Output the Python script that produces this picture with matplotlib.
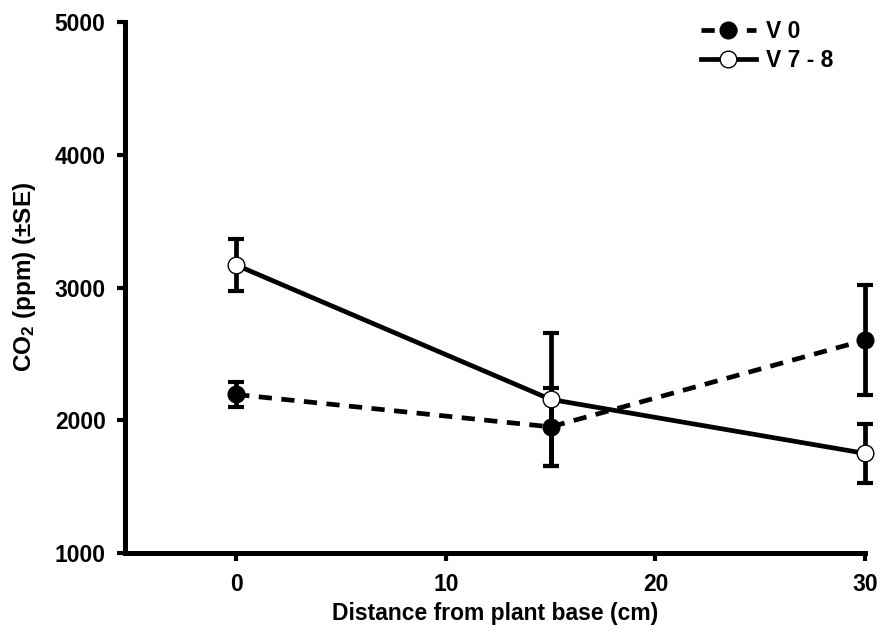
import numpy as np
import matplotlib
matplotlib.use('agg')
import matplotlib.pyplot as plt

# data
distance = [0, 15, 30]
v0_mean = [2195, 1951, 2605]
v0_se = [95, 293, 415]
v78_mean = [3170, 2158, 1751]
v78_se = [195, 500, 225]

xticks = [0, 10, 20, 30]
yticks = [1000, 2000, 3000, 4000, 5000]

plt.rcParams['font.family'] = ['Liberation Sans', 'DejaVu Sans']
plt.rcParams['font.weight'] = 'bold'
plt.rcParams['mathtext.fontset'] = 'custom'
plt.rcParams['mathtext.rm'] = 'Liberation Sans:bold'
plt.rcParams['mathtext.bf'] = 'Liberation Sans:bold'
plt.rcParams['mathtext.default'] = 'bf'


def main():
    fig = plt.figure(figsize=(8.81, 6.35), dpi=100)
    ax = fig.add_axes([0.142, 0.129, 0.840, 0.836])

    lw = 3.4
    # error bars first, markers on top
    for m, se in [(v0_mean, v0_se), (v78_mean, v78_se)]:
        eb = ax.errorbar(distance, m, yerr=se, fmt='none', ecolor='k',
                         elinewidth=lw, capsize=5.8, capthick=3.0, zorder=3)
        for art in eb.get_children():
            art.set_clip_on(False)

    ax.plot(distance, v0_mean, color='k', linewidth=lw,
            linestyle=(0, (2.8, 2.0)), marker='o', markersize=12,
            markerfacecolor='k', markeredgecolor='k', markeredgewidth=1.0,
            label='V 0', zorder=4, clip_on=False)
    ax.plot(distance, v78_mean, color='k', linewidth=lw, linestyle='-',
            marker='o', markersize=12, markerfacecolor='white',
            markeredgecolor='k', markeredgewidth=1.0,
            label='V 7 - 8', zorder=4, clip_on=False)

    ax.set_xlim(-5.3, 30)
    ax.set_ylim(1000, 5000)
    ax.set_xticks(xticks)
    ax.set_yticks(yticks)

    for side in ['top', 'right']:
        ax.spines[side].set_visible(False)
    for side in ['left', 'bottom']:
        ax.spines[side].set_linewidth(3.6)
        ax.spines[side].set_capstyle('projecting')
    ax.tick_params(direction='out', length=6, width=3.0, labelsize=16.5,
                   pad=8)
    for lab in ax.get_xticklabels() + ax.get_yticklabels():
        lab.set_fontweight('bold')

    ax.set_xlabel('Distance from plant base (cm)', fontsize=16.5,
                  fontweight='bold', labelpad=5)
    ax.set_ylabel(r'CO$_2$ (ppm) ($\pm$SE)', fontsize=17.5,
                  fontweight='bold')
    ax.yaxis.set_label_coords(-0.118, 0.52)

    lgd = ax.legend(loc='upper left', bbox_to_anchor=(0.778, 1.005),
                    frameon=False, fontsize=16.5, handlelength=2.4,
                    handletextpad=0.45, labelspacing=0.3, borderpad=0,
                    borderaxespad=0)
    for t in lgd.get_texts():
        t.set_fontweight('bold')

    fig.savefig('out.png', dpi=100)
    plt.close()


main()
